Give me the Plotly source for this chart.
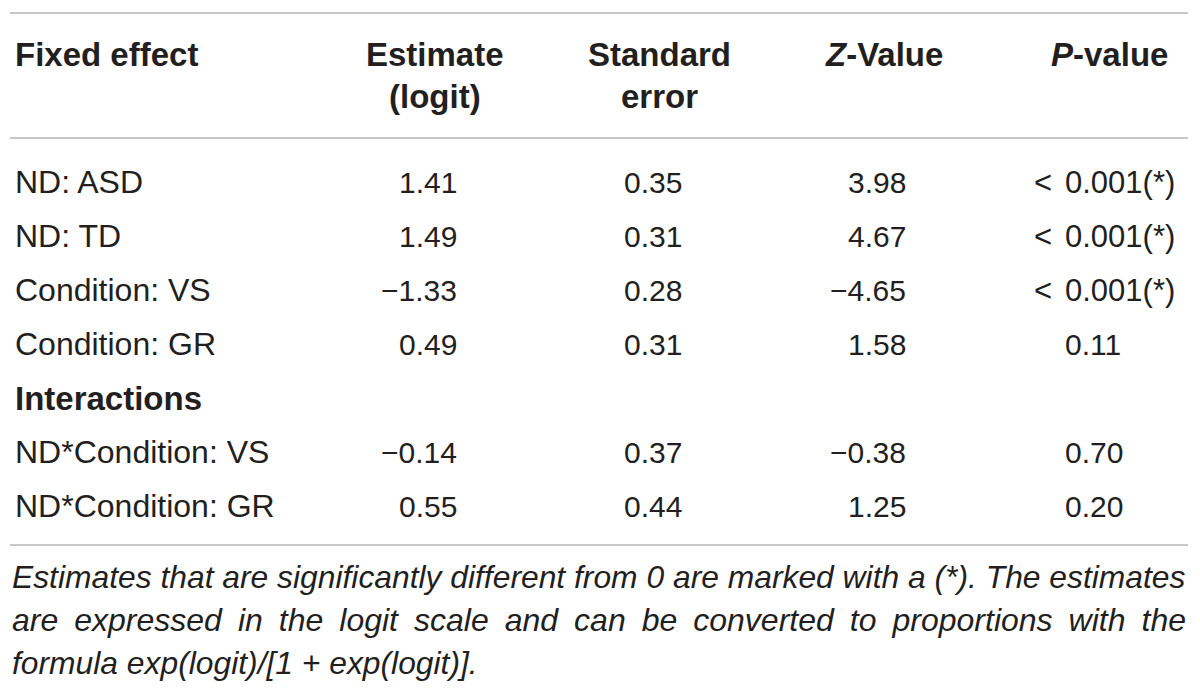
import plotly.graph_objects as go

# table content
HEADERS = [["Fixed effect", ""], ["Estimate", "(logit)"], ["Standard", "error"],
           ["<i>Z</i>-Value", ""], ["<i>P</i>-value", ""]]
EFFECTS = ["ND: ASD", "ND: TD", "Condition: VS", "Condition: GR",
           "<b>Interactions</b>", "ND*Condition: VS", "ND*Condition: GR"]
ESTIMATE = ["1.41", "1.49", "\u22121.33", "0.49", "", "\u22120.14", "0.55"]
STD_ERR = ["0.35", "0.31", "0.28", "0.31", "", "0.37", "0.44"]
Z_VALUE = ["3.98", "4.67", "\u22124.65", "1.58", "", "\u22120.38", "1.25"]
P_VALUE = ["< 0.001(*)", "< 0.001(*)", "< 0.001(*)", "0.11", "", "0.70", "0.20"]
FOOTNOTE = [
    "Estimates that are significantly different from 0 are marked with a (*). The estimates",
    "are expressed in the logit scale and can be converted to proportions with the",
    "formula exp(logit)/[1 + exp(logit)].",
]

FONT = "Liberation Sans"
INK = "#231f20"
RULE = "#c8c8c8"

# page body has an 8px margin, so the plot area is shifted and the ranges follow it
OFF = 8
W, H = 1200 - 2 * OFF, 693 - 2 * OFF
ROW0, ROW_STEP = 182, 54
HEAD_Y = [54, 96]
HEAD_X = [13, 435, 659, 884, 1109]
# right edge of each numeric column; p-values line up on the leading "0"
VAL_X = [459, 684, 908, 1063]

fig = go.Figure()
fig.update_layout(
    width=W, height=H, margin=dict(l=0, r=0, t=0, b=0),
    paper_bgcolor="white", plot_bgcolor="white", showlegend=False,
    xaxis=dict(range=[OFF, OFF + W], visible=False, fixedrange=True),
    yaxis=dict(range=[OFF + H, OFF], visible=False, fixedrange=True),
)


def txt(x, y, s, anchor="left", size=30):
    fig.add_annotation(x=x, y=y, xref="x", yref="y", text=s, showarrow=False,
                       xanchor=anchor, yanchor="middle",
                       font=dict(family=FONT, size=size, color=INK))


# horizontal rules
for y in [13, 138, 545]:
    fig.add_shape(type="line", x0=10, x1=1188, y0=y, y1=y, xref="x", yref="y",
                  line=dict(color=RULE, width=2))

# header
for i, (l1, l2) in enumerate(HEADERS):
    anchor = "left" if i == 0 else "center"
    txt(HEAD_X[i], HEAD_Y[0], "<b>" + l1 + "</b>", anchor, 33)
    if l2:
        txt(HEAD_X[i], HEAD_Y[1], "<b>" + l2 + "</b>", anchor, 33)

# body
for r, name in enumerate(EFFECTS):
    y = ROW0 + r * ROW_STEP
    txt(13, y, name, size=33 if name.startswith("<b>") else 32)
    txt(VAL_X[0], y, ESTIMATE[r], "right")
    txt(VAL_X[1], y, STD_ERR[r], "right")
    txt(VAL_X[2], y, Z_VALUE[r], "right")
    p = P_VALUE[r]
    if p.startswith("<"):
        txt(VAL_X[3], y, "&lt;\u00a0", "right", 31)
        txt(VAL_X[3], y, p[2:], "left", 31)
    elif p:
        txt(VAL_X[3], y, p, "left")

# footnote, italic; middle line is stretched to the full width (justified)
for k, line in enumerate(FOOTNOTE):
    size = 31.8
    if k == 1:
        line = line.replace(" ", "\u2002")
        size = 32
    txt(10, 577 + k * 43, "<i>" + line + "</i>", size=size)

fig.write_html("out.html")
